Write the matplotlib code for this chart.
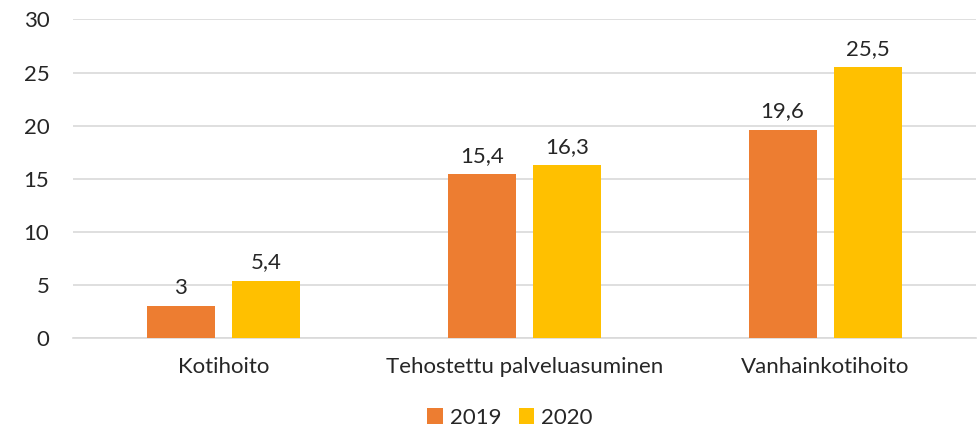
import numpy as np
import matplotlib.pyplot as plt

categories = ['Kotihoito', 'Tehostettu palveluasuminen', 'Vanhainkotihoito']
values_2019 = [3, 15.4, 19.6]
values_2020 = [5.4, 16.3, 25.5]
labels_2019 = ['3', '15,4', '19,6']
labels_2020 = ['5,4', '16,3', '25,5']
yticks = [0, 5, 10, 15, 20, 25, 30]

plt.rcParams['font.family'] = ['Lato', 'DejaVu Sans']
fs = 16

fig = plt.figure(figsize=(9.77, 4.30), dpi=100)
ax = fig.add_axes([0.0747, 0.214, 0.924, 0.7407])

x = np.arange(len(categories))
width = 0.226
offset = 0.142

bars1 = ax.bar(x - offset, values_2019, width, color='#ED7D31', label='2019', zorder=3)
bars2 = ax.bar(x + offset, values_2020, width, color='#FFC000', label='2020', zorder=3)

for bar, lab in zip(bars1, labels_2019):
    ax.annotate(lab, (bar.get_x() + bar.get_width() / 2, bar.get_height()),
                xytext=(0, 6), textcoords='offset points', ha='center', va='bottom',
                fontsize=fs, color='#262626')
for bar, lab in zip(bars2, labels_2020):
    ax.annotate(lab, (bar.get_x() + bar.get_width() / 2, bar.get_height()),
                xytext=(0, 6), textcoords='offset points', ha='center', va='bottom',
                fontsize=fs, color='#262626')

ax.set_xlim(-0.5, 2.5)
ax.set_ylim(0, 30)
ax.set_yticks(yticks)
ax.set_xticks(x)
ax.set_xticklabels(categories)
ax.tick_params(axis='both', length=0, labelsize=fs, colors='#262626')
ax.tick_params(axis='y', pad=17)
ax.tick_params(axis='x', pad=14)
ax.grid(axis='y', color='#D9D9D9', linewidth=1.2, zorder=0)
for side in ['top', 'right', 'left']:
    ax.spines[side].set_visible(False)
ax.spines['bottom'].set_color('#D9D9D9')
ax.spines['bottom'].set_linewidth(1.2)

fig.legend(loc='center', bbox_to_anchor=(0.522, 0.028), ncol=2, frameon=False,
           fontsize=fs, handlelength=0.7, handleheight=0.7, columnspacing=0.8,
           handletextpad=0.3, labelcolor='#262626', borderpad=0)

fig.savefig('out.png', dpi=100)
